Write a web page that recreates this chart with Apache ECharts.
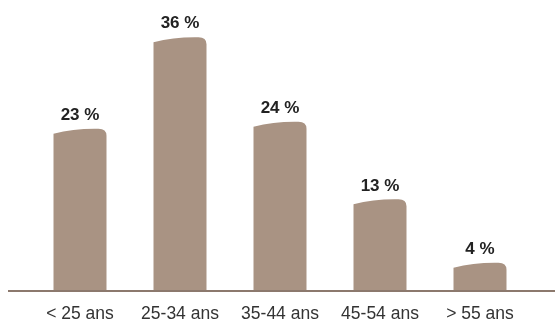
<!DOCTYPE html>
<html><head><meta charset="utf-8">
<script src="https://cdn.jsdelivr.net/npm/echarts@6/dist/echarts.min.js"></script>
<style>html,body{margin:0;padding:0;background:#fff}#c{width:555px;height:323px}</style>
</head><body><div id="c"></div>
<script>
var categories = ['< 25 ans', '25-34 ans', '35-44 ans', '45-54 ans', '> 55 ans'];
var values = [23, 36, 24, 13, 4];
var chart = echarts.init(document.getElementById('c'), null, {renderer: 'canvas'});
chart.setOption({
  animation: false,
  grid: {left: 30, right: 25, top: 9, bottom: 32},
  xAxis: {
    type: 'category', data: categories,
    axisLine: {show: false}, axisTick: {show: false},
    axisLabel: {interval: 0, hideOverlap: false, color: '#333', fontSize: 17.5, fontFamily: 'Liberation Sans, Arial, sans-serif', margin: 14}
  },
  yAxis: {type: 'value', min: 0, max: 40, show: false, splitLine: {show: false}},
  graphic: [{
    type: 'line', z: 100,
    shape: {x1: 8, y1: 291, x2: 555, y2: 291},
    style: {stroke: '#8c796d', lineWidth: 2}
  }],
  series: [{
    type: 'custom',
    data: values.map(function (v, i) { return [i, v]; }),
    renderItem: function (params, api) {
      var top = api.coord([api.value(0), api.value(1)]);
      var base = api.coord([api.value(0), 0]);
      var w = api.size([1, 0])[0] * 0.53;
      var L = top[0] - w / 2, R = top[0] + w / 2, y0 = top[1], yb = base[1];
      var d = 'M' + L + ' ' + yb + ' L' + L + ' ' + (y0 + 5) +
        ' Q' + (L + w * 0.4) + ' ' + (y0 - 0.5) + ' ' + (R - 8) + ' ' + y0 +
        ' Q' + R + ' ' + y0 + ' ' + R + ' ' + (y0 + 7) +
        ' L' + R + ' ' + yb + ' Z';
      return {
        type: 'group',
        children: [
          {type: 'path', shape: {pathData: d}, style: {fill: '#a99383'}},
          {type: 'text', style: {
            text: api.value(1) + ' %', x: top[0], y: y0 - 5,
            align: 'center', verticalAlign: 'bottom',
            fill: '#222', fontSize: 17, fontWeight: 'bold',
            fontFamily: 'Liberation Sans, Arial, sans-serif'
          }}
        ]
      };
    }
  }]
});
</script></body></html>
